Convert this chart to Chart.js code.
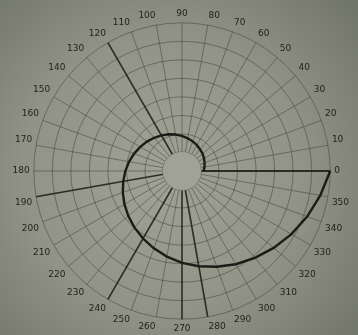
<!DOCTYPE html>
<html>
<head>
<meta charset="utf-8">
<script src="https://cdn.jsdelivr.net/npm/chart.js@4/dist/chart.umd.min.js"></script>
<style>
  html, body {
    margin: 0;
    padding: 0;
    width: 358px;
    height: 335px;
    overflow: hidden;
    background: radial-gradient(ellipse 70% 75% at 46% 52%, #a0a295 0%, #909386 55%, #727569 100%);
  }
  canvas { display: block; }
</style>
</head>
<body>
<canvas id="chart" width="358" height="335"></canvas>
<script>
// angle labels, degrees counterclockwise from the right
const angles = [0, 10, 20, 30, 40, 50, 60, 70, 80, 90, 100, 110, 120, 130, 140, 150, 160, 170,
                180, 190, 200, 210, 220, 230, 240, 250, 260, 270, 280, 290, 300, 310, 320, 330, 340, 350];

// spiral radius (grid rings) at each angle, first turn
const spiralRadius = [1.17, 1.23, 1.30, 1.37, 1.45, 1.52, 1.61, 1.70, 1.79, 1.90, 2.00, 2.11, 2.22, 2.34, 2.47, 2.60, 2.75, 2.90,
                      3.06, 3.22, 3.40, 3.59, 3.78, 3.99, 4.21, 4.44, 4.69, 4.96, 5.22, 5.50, 5.81, 6.12, 6.46, 6.82, 7.19, 7.58];
const spiralEnd = 8;        // radius back at 0 degrees after one turn

// the darker radial lines
const markedSpokes = [0, 120, 190, 240, 270, 280];

const ringMax = 8;
const hubRadius = 1.05;     // blank disc at the centre

const paper = '#a0a295';
const gridColor = 'rgba(68, 71, 62, 0.55)';
const ink = '#1b1c18';

// Chart.js goes clockwise, so walk the angles backwards
const n = angles.length;
const chartAngle = i => angles[(n - i) % n];
const labels = angles.map((a, i) => String(chartAngle(i)));

// main run of the spiral: 360 -> 20 degrees (chart index 0..34)
const mainData = angles.map((a, i) => {
    if (i === 0) return spiralEnd;
    if (i === n - 1) return null;
    return spiralRadius[n - i];
});

// first bit of the spiral: 0 -> 10 -> 20 degrees
const startData = angles.map((a, i) => {
    if (i === 0) return spiralRadius[0];
    if (i === n - 1) return spiralRadius[1];
    if (i === n - 2) return spiralRadius[2];
    return null;
});

const hubData = angles.map(() => hubRadius);

new Chart(document.getElementById('chart'), {
    type: 'radar',
    data: {
        labels: labels,
        datasets: [
            {
                label: 'spiral',
                data: mainData,
                borderColor: ink,
                borderWidth: 2.4,
                pointRadius: 0,
                fill: false,
                tension: 0
            },
            {
                label: 'spiral start',
                data: startData,
                borderColor: ink,
                borderWidth: 2.4,
                pointRadius: 0,
                fill: false,
                tension: 0
            },
            {
                label: 'hub',
                data: hubData,
                borderColor: 'rgba(68, 71, 62, 0.35)',
                borderWidth: 1,
                backgroundColor: paper,
                pointRadius: 0,
                fill: 'origin'
            }
        ]
    },
    options: {
        responsive: false,
        animation: false,
        layout: {
            padding: { left: 6, right: 2, top: 8, bottom: 0 }
        },
        plugins: {
            legend: { display: false },
            tooltip: { enabled: false }
        },
        scales: {
            r: {
                min: 0,
                max: ringMax,
                startAngle: 90,
                ticks: { display: false, stepSize: 1 },
                grid: {
                    circular: true,
                    color: gridColor,
                    lineWidth: 1
                },
                angleLines: {
                    display: true,
                    color: ctx => markedSpokes.includes(chartAngle(ctx.index)) ? 'rgba(24, 25, 21, 0.85)' : gridColor,
                    lineWidth: ctx => {
                        const a = chartAngle(ctx.index);
                        if (a === 0) return 2;
                        return markedSpokes.includes(a) ? 1.6 : 1;
                    }
                },
                pointLabels: {
                    color: '#1f211a',
                    padding: 4,
                    font: { family: 'DejaVu Sans', size: 9 }
                }
            }
        }
    }
});
</script>
</body>
</html>
